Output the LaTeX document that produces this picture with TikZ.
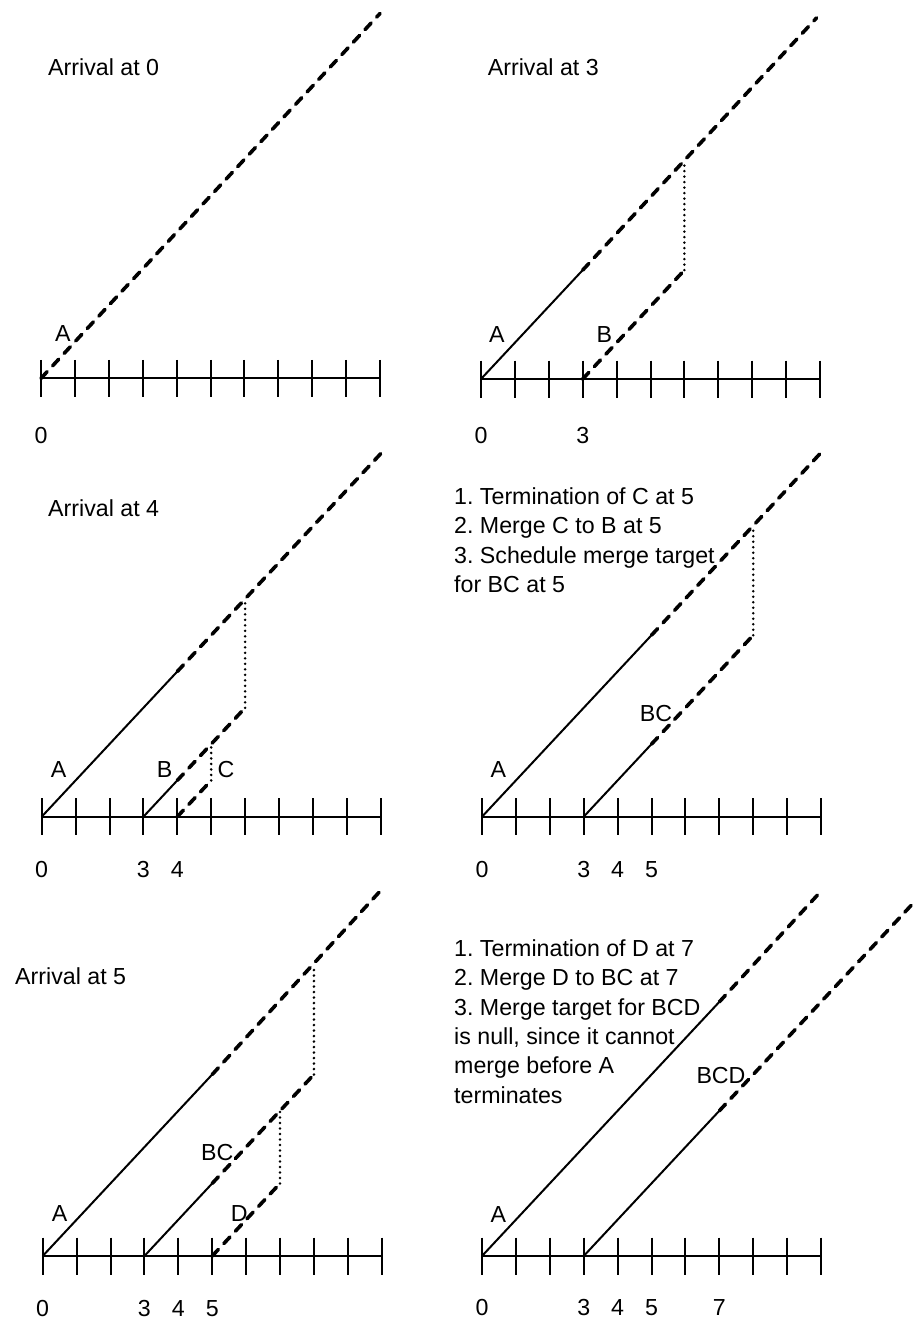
\documentclass[tikz,border=0pt]{standalone}
\usepackage{fontspec}
\setmainfont{Liberation Sans}
\frenchspacing
\begin{document}
\begin{tikzpicture}[x=1pt,y=-1pt,
  every node/.style={inner sep=0pt, font=\fontsize{23.2}{29.4}\selectfont},
  past/.style={line width=2pt},
  future/.style={line width=3.6pt, line cap=round, dash pattern=on 9pt off 8pt},
  jump/.style={line width=2.8pt, line cap=round, dash pattern=on 0pt off 5.5pt},
  axisline/.style={line width=2.3pt},
  tickline/.style={line width=2pt},
  lbl/.style={anchor=base west},
  num/.style={anchor=base},
  note/.style={anchor=north west, align=left},
  panel/.style={x=33.9pt, y=36.3pt}]
\useasboundingbox (0,0) rectangle (914,1321);
\newcommand\timeaxis[1]{%
  \draw[axisline] (0,0) coordinate (#1o) -- (10,0) coordinate (#1e);
  \foreach \i in {0,...,10} {\draw[tickline] (\i,0) ++(0,18.5pt) -- ++(0,-37pt);}
}

% ---------- Panel 1 ----------
\begin{scope}[shift={(41pt,-378.3pt)}, panel]
  \timeaxis{p1}
  \coordinate (p1Aend) at (10,10.05);
  \draw[future] (p1o) -- (p1Aend);
\end{scope}
\node[lbl] (t1) at (48,76) {Arrival at 0};
\node[lbl] (p1A) at (55,341.7) {A};
\node[num] (p1n0) at (41,443.3) {0};

% ---------- Panel 2 ----------
\begin{scope}[shift={(481pt,-379pt)}, panel]
  \timeaxis{p2}
  \coordinate (p2a3) at (3,3);
  \coordinate (p2a6) at (6,6);
  \coordinate (p2Aend) at (9.9,9.95);
  \coordinate (p2b0) at (3,0);
  \coordinate (p2b6) at (6,3);
  \draw[past] (p2o) -- (p2a3);
  \draw[future] (p2a3) -- (p2Aend);
  \draw[future] (p2b0) -- (p2b6);
  \draw[jump] (p2b6) -- (p2a6);
\end{scope}
\node[lbl] (t2) at (487.7,76) {Arrival at 3};
\node[lbl] (p2A) at (489,342) {A};
\node[lbl] (p2B) at (596.3,342) {B};
\node[num] (p2n0) at (481,443.3) {0};
\node[num] (p2n3) at (582.7,443.3) {3};

% ---------- Panel 3 ----------
\begin{scope}[shift={(41.7pt,-816.7pt)}, panel]
  \timeaxis{p3}
  \coordinate (p3a4) at (4,4);
  \coordinate (p3a6) at (6,6);
  \coordinate (p3Aend) at (10,10);
  \coordinate (p3b0) at (3,0);
  \coordinate (p3b4) at (4,1);
  \coordinate (p3b5) at (5,2);
  \coordinate (p3b6) at (6,3);
  \coordinate (p3c0) at (4,0);
  \coordinate (p3c5) at (5,1);
  \draw[past] (p3o) -- (p3a4);
  \draw[future] (p3a4) -- (p3Aend);
  \draw[past] (p3b0) -- (p3b4);
  \draw[future] (p3b4) -- (p3b6);
  \draw[jump] (p3b6) -- (p3a6);
  \draw[future] (p3c0) -- (p3c5);
  \draw[jump] (p3c5) -- (p3b5);
\end{scope}
\node[lbl] (t3) at (48,516) {Arrival at 4};
\node[lbl] (p3A) at (50.7,777.3) {A};
\node[lbl] (p3B) at (156.7,777.3) {B};
\node[lbl] (p3C) at (217.3,777.3) {C};
\node[num] (p3n0) at (41.7,877.3) {0};
\node[num] (p3n3) at (143.4,877.3) {3};
\node[num] (p3n4) at (177.3,877.3) {4};

% ---------- Panel 4 ----------
\begin{scope}[shift={(482pt,-816.7pt)}, panel]
  \timeaxis{p4}
  \coordinate (p4a5) at (5,5);
  \coordinate (p4a8) at (8,8);
  \coordinate (p4Aend) at (10,10.03);
  \coordinate (p4b0) at (3,0);
  \coordinate (p4b5) at (5,2);
  \coordinate (p4b8) at (8,5);
  \draw[past] (p4o) -- (p4a5);
  \draw[future] (p4a5) -- (p4Aend);
  \draw[past] (p4b0) -- (p4b5);
  \draw[future] (p4b5) -- (p4b8);
  \draw[jump] (p4b8) -- (p4a8);
\end{scope}
\node[note] (t4) at (454,487.3) {1. Termination of C at 5\\2. Merge C to B at 5\\3. Schedule merge target\\for BC at 5};
\node[lbl] (p4A) at (490.3,777.3) {A};
\node[lbl] (p4BC) at (639.7,721.7) {BC};
\node[num] (p4n0) at (482,877.3) {0};
\node[num] (p4n3) at (583.7,877.3) {3};
\node[num] (p4n4) at (617.6,877.3) {4};
\node[num] (p4n5) at (651.5,877.3) {5};

% ---------- Panel 5 ----------
\begin{scope}[shift={(42.7pt,-1256pt)}, panel]
  \timeaxis{p5}
  \coordinate (p5a5) at (5,5);
  \coordinate (p5a8) at (8,8);
  \coordinate (p5Aend) at (10,10.1);
  \coordinate (p5b0) at (3,0);
  \coordinate (p5b5) at (5,2);
  \coordinate (p5b7) at (7,4);
  \coordinate (p5b8) at (8,5);
  \coordinate (p5d0) at (5,0);
  \coordinate (p5d7) at (7,2);
  \draw[past] (p5o) -- (p5a5);
  \draw[future] (p5a5) -- (p5Aend);
  \draw[past] (p5b0) -- (p5b5);
  \draw[future] (p5b5) -- (p5b8);
  \draw[jump] (p5b8) -- (p5a8);
  \draw[future] (p5d0) -- (p5d7);
  \draw[jump] (p5d7) -- (p5b7);
\end{scope}
\node[lbl] (t5) at (15,984) {Arrival at 5};
\node[lbl] (p5A) at (51.7,1221.7) {A};
\node[lbl] (p5BC) at (201,1160.7) {BC};
\node[lbl] (p5D) at (230.7,1221.7) {D};
\node[num] (p5n0) at (42.7,1316.7) {0};
\node[num] (p5n3) at (144.4,1316.7) {3};
\node[num] (p5n4) at (178.3,1316.7) {4};
\node[num] (p5n5) at (212.2,1316.7) {5};

% ---------- Panel 6 ----------
\begin{scope}[shift={(482pt,-1256pt)}, panel]
  \timeaxis{p6}
  \coordinate (p6a7) at (7,7);
  \coordinate (p6Aend) at (10,10.05);
  \coordinate (p6b0) at (3,0);
  \coordinate (p6b7) at (7,4);
  \coordinate (p6Bend) at (12.9,9.9);
  \draw[past] (p6o) -- (p6a7);
  \draw[future] (p6a7) -- (p6Aend);
  \draw[past] (p6b0) -- (p6b7);
  \draw[future] (p6b7) -- (p6Bend);
\end{scope}
\node[note] (t6) at (454,939.3) {1. Termination of D at 7\\2. Merge D to BC at 7\\3. Merge target for BCD\\is null, since it cannot\\merge before A\\terminates};
\node[lbl] (p6A) at (490.3,1222.3) {A};
\node[lbl] (p6BCD) at (696.3,1083.3) {BCD};
\node[num] (p6n0) at (482,1315) {0};
\node[num] (p6n3) at (583.7,1315) {3};
\node[num] (p6n4) at (617.6,1315) {4};
\node[num] (p6n5) at (651.5,1315) {5};
\node[num] (p6n7) at (719.3,1315) {7};
\end{tikzpicture}
\end{document}
